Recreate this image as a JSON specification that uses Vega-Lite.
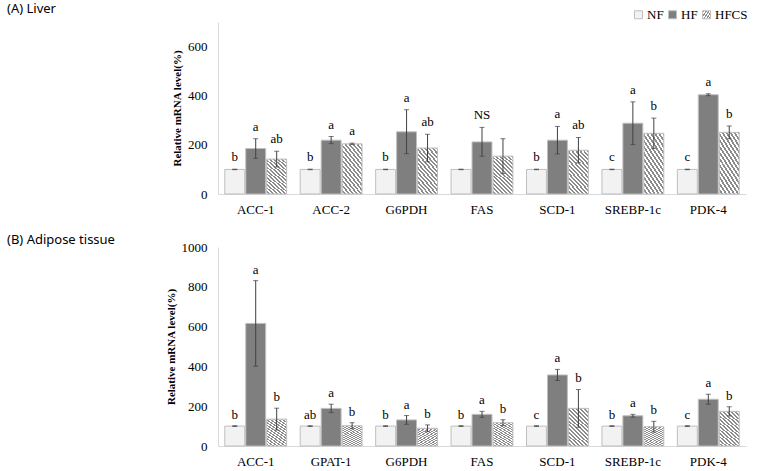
{
  "$schema": "https://vega.github.io/schema/vega-lite/v6.json",
  "padding": {"left": 7, "top": 3, "right": 5, "bottom": 2},
  "background": "#ffffff",
  "spacing": 18,
  "datasets": {
    "liver": [
      {"gene": "ACC-1", "diet": "NF", "value": 100, "lo": 99, "hi": 101, "label": "b"},
      {"gene": "ACC-1", "diet": "HF", "value": 185, "lo": 145, "hi": 225, "label": "a"},
      {"gene": "ACC-1", "diet": "HFCS", "value": 142, "lo": 110, "hi": 174, "label": "ab"},
      {"gene": "ACC-2", "diet": "NF", "value": 100, "lo": 99, "hi": 101, "label": "b"},
      {"gene": "ACC-2", "diet": "HF", "value": 219, "lo": 205, "hi": 234, "label": "a"},
      {"gene": "ACC-2", "diet": "HFCS", "value": 204, "lo": 201, "hi": 207, "label": "a"},
      {"gene": "G6PDH", "diet": "NF", "value": 100, "lo": 99, "hi": 101, "label": "b"},
      {"gene": "G6PDH", "diet": "HF", "value": 253, "lo": 164, "hi": 343, "label": "a"},
      {"gene": "G6PDH", "diet": "HFCS", "value": 187, "lo": 131, "hi": 243, "label": "ab"},
      {"gene": "FAS", "diet": "NF", "value": 100, "lo": 99, "hi": 101, "label": ""},
      {"gene": "FAS", "diet": "HF", "value": 212, "lo": 154, "hi": 271, "label": "NS"},
      {"gene": "FAS", "diet": "HFCS", "value": 154, "lo": 83, "hi": 225, "label": ""},
      {"gene": "SCD-1", "diet": "NF", "value": 100, "lo": 99, "hi": 101, "label": "b"},
      {"gene": "SCD-1", "diet": "HF", "value": 219, "lo": 163, "hi": 275, "label": "a"},
      {"gene": "SCD-1", "diet": "HFCS", "value": 178, "lo": 127, "hi": 230, "label": "ab"},
      {"gene": "SREBP-1c", "diet": "NF", "value": 100, "lo": 99, "hi": 101, "label": "c"},
      {"gene": "SREBP-1c", "diet": "HF", "value": 288, "lo": 201, "hi": 375, "label": "a"},
      {"gene": "SREBP-1c", "diet": "HFCS", "value": 247, "lo": 185, "hi": 309, "label": "b"},
      {"gene": "PDK-4", "diet": "NF", "value": 100, "lo": 99, "hi": 101, "label": "c"},
      {"gene": "PDK-4", "diet": "HF", "value": 404, "lo": 400, "hi": 408, "label": "a"},
      {"gene": "PDK-4", "diet": "HFCS", "value": 251, "lo": 225, "hi": 277, "label": "b"}
    ],
    "adipose": [
      {"gene": "ACC-1", "diet": "NF", "value": 100, "lo": 98, "hi": 102, "label": "b"},
      {"gene": "ACC-1", "diet": "HF", "value": 616, "lo": 401, "hi": 831, "label": "a"},
      {"gene": "ACC-1", "diet": "HFCS", "value": 135, "lo": 80, "hi": 190, "label": "b"},
      {"gene": "GPAT-1", "diet": "NF", "value": 100, "lo": 98, "hi": 102, "label": "ab"},
      {"gene": "GPAT-1", "diet": "HF", "value": 189, "lo": 168, "hi": 210, "label": "a"},
      {"gene": "GPAT-1", "diet": "HFCS", "value": 102, "lo": 87, "hi": 117, "label": "b"},
      {"gene": "G6PDH", "diet": "NF", "value": 100, "lo": 98, "hi": 102, "label": "b"},
      {"gene": "G6PDH", "diet": "HF", "value": 131, "lo": 109, "hi": 153, "label": "a"},
      {"gene": "G6PDH", "diet": "HFCS", "value": 89, "lo": 72, "hi": 106, "label": "b"},
      {"gene": "FAS", "diet": "NF", "value": 100, "lo": 98, "hi": 102, "label": "b"},
      {"gene": "FAS", "diet": "HF", "value": 159, "lo": 144, "hi": 174, "label": "a"},
      {"gene": "FAS", "diet": "HFCS", "value": 117, "lo": 102, "hi": 132, "label": "b"},
      {"gene": "SCD-1", "diet": "NF", "value": 100, "lo": 98, "hi": 102, "label": "c"},
      {"gene": "SCD-1", "diet": "HF", "value": 357, "lo": 329, "hi": 385, "label": "a"},
      {"gene": "SCD-1", "diet": "HFCS", "value": 189, "lo": 94, "hi": 284, "label": "b"},
      {"gene": "SREBP-1c", "diet": "NF", "value": 100, "lo": 98, "hi": 102, "label": "b"},
      {"gene": "SREBP-1c", "diet": "HF", "value": 152, "lo": 145, "hi": 159, "label": "a"},
      {"gene": "SREBP-1c", "diet": "HFCS", "value": 97, "lo": 70, "hi": 124, "label": "b"},
      {"gene": "PDK-4", "diet": "NF", "value": 100, "lo": 98, "hi": 102, "label": "c"},
      {"gene": "PDK-4", "diet": "HF", "value": 235, "lo": 210, "hi": 260, "label": "a"},
      {"gene": "PDK-4", "diet": "HFCS", "value": 174, "lo": 151, "hi": 197, "label": "b"}
    ]
  },
  "vconcat": [
    {
      "data": {"name": "liver"},
      "width": 528,
      "height": 172,
      "title": {"text": "(A)  Liver", "anchor": "start", "frame": "group", "dx": -211, "offset": 6},
      "encoding": {
        "x": {"field": "gene", "type": "nominal", "sort": null, "scale": {"paddingInner": 0.18, "paddingOuter": 0.09}, "axis": {"title": null}},
        "xOffset": {"field": "diet", "type": "nominal", "sort": ["NF", "HF", "HFCS"], "scale": {"domain": ["NF", "HF", "HFCS"], "paddingInner": 0.05}}
      },
      "layer": [
        {
          "mark": {"type": "bar", "stroke": "#bfbfbf", "strokeWidth": 1},
          "encoding": {
            "y": {"field": "value", "type": "quantitative", "scale": {"domain": [0, 700], "nice": false}, "axis": {"values": [0, 200, 400, 600], "tickCount": 10, "format": "d", "title": "Relative mRNA level(%)", "labelOverlap": false}},
            "fill": {"field": "diet", "type": "nominal", "scale": {"domain": ["NF", "HF", "HFCS"], "range": ["#f2f2f2", "#7f7f7f", {"expr": "{gradient:'linear',x1:0,y1:1,x2:0.6,y2:-0.2,stops:[{offset:0,color:'#ffffff'},{offset:0.0333,color:'#ffffff'},{offset:0.0333,color:'#8c8c8c'},{offset:0.0667,color:'#8c8c8c'},{offset:0.0667,color:'#ffffff'},{offset:0.1,color:'#ffffff'},{offset:0.1,color:'#8c8c8c'},{offset:0.1333,color:'#8c8c8c'},{offset:0.1333,color:'#ffffff'},{offset:0.1667,color:'#ffffff'},{offset:0.1667,color:'#8c8c8c'},{offset:0.2,color:'#8c8c8c'},{offset:0.2,color:'#ffffff'},{offset:0.2333,color:'#ffffff'},{offset:0.2333,color:'#8c8c8c'},{offset:0.2667,color:'#8c8c8c'},{offset:0.2667,color:'#ffffff'},{offset:0.3,color:'#ffffff'},{offset:0.3,color:'#8c8c8c'},{offset:0.3333,color:'#8c8c8c'},{offset:0.3333,color:'#ffffff'},{offset:0.3667,color:'#ffffff'},{offset:0.3667,color:'#8c8c8c'},{offset:0.4,color:'#8c8c8c'},{offset:0.4,color:'#ffffff'},{offset:0.4333,color:'#ffffff'},{offset:0.4333,color:'#8c8c8c'},{offset:0.4667,color:'#8c8c8c'},{offset:0.4667,color:'#ffffff'},{offset:0.5,color:'#ffffff'},{offset:0.5,color:'#8c8c8c'},{offset:0.5333,color:'#8c8c8c'},{offset:0.5333,color:'#ffffff'},{offset:0.5667,color:'#ffffff'},{offset:0.5667,color:'#8c8c8c'},{offset:0.6,color:'#8c8c8c'},{offset:0.6,color:'#ffffff'},{offset:0.6333,color:'#ffffff'},{offset:0.6333,color:'#8c8c8c'},{offset:0.6667,color:'#8c8c8c'},{offset:0.6667,color:'#ffffff'},{offset:0.7,color:'#ffffff'},{offset:0.7,color:'#8c8c8c'},{offset:0.7333,color:'#8c8c8c'},{offset:0.7333,color:'#ffffff'},{offset:0.7667,color:'#ffffff'},{offset:0.7667,color:'#8c8c8c'},{offset:0.8,color:'#8c8c8c'},{offset:0.8,color:'#ffffff'},{offset:0.8333,color:'#ffffff'},{offset:0.8333,color:'#8c8c8c'},{offset:0.8667,color:'#8c8c8c'},{offset:0.8667,color:'#ffffff'},{offset:0.9,color:'#ffffff'},{offset:0.9,color:'#8c8c8c'},{offset:0.9333,color:'#8c8c8c'},{offset:0.9333,color:'#ffffff'},{offset:0.9667,color:'#ffffff'},{offset:0.9667,color:'#8c8c8c'},{offset:1,color:'#8c8c8c'}]}"}]},
              "legend": {"orient": "none", "legendX": 414, "legendY": -14, "direction": "horizontal", "title": null, "symbolType": "square", "symbolSize": 64, "symbolStrokeColor": "#bfbfbf", "symbolStrokeWidth": 1, "labelFont": "Liberation Serif", "labelFontSize": 13, "labelColor": "#000000", "labelOffset": 2, "columnPadding": 2}}
          }
        },
        {
          "mark": {"type": "rule", "color": "#404040", "strokeWidth": 1},
          "encoding": {"y": {"field": "lo", "type": "quantitative"}, "y2": {"field": "hi"}}
        },
        {
          "mark": {"type": "tick", "color": "#404040", "size": 5, "thickness": 1, "orient": "horizontal"},
          "encoding": {"y": {"field": "hi", "type": "quantitative"}}
        },
        {
          "mark": {"type": "tick", "color": "#404040", "size": 5, "thickness": 1, "orient": "horizontal"},
          "encoding": {"y": {"field": "lo", "type": "quantitative"}}
        },
        {
          "mark": {"type": "text", "font": "Liberation Serif", "fontSize": 13, "color": "#000000", "baseline": "alphabetic", "dy": -8},
          "encoding": {"y": {"field": "hi", "type": "quantitative"}, "text": {"field": "label"}}
        }
      ]
    },
    {
      "data": {"name": "adipose"},
      "width": 528,
      "height": 199,
      "title": {"text": "(B)  Adipose tissue", "anchor": "start", "frame": "group", "dx": -211, "dy": 6, "offset": 0},
      "encoding": {
        "x": {"field": "gene", "type": "nominal", "sort": null, "scale": {"paddingInner": 0.18, "paddingOuter": 0.09}, "axis": {"title": null}},
        "xOffset": {"field": "diet", "type": "nominal", "sort": ["NF", "HF", "HFCS"], "scale": {"domain": ["NF", "HF", "HFCS"], "paddingInner": 0.05}}
      },
      "layer": [
        {
          "mark": {"type": "bar", "stroke": "#bfbfbf", "strokeWidth": 1},
          "encoding": {
            "y": {"field": "value", "type": "quantitative", "scale": {"domain": [0, 1000], "nice": false}, "axis": {"values": [0, 200, 400, 600, 800, 1000], "tickCount": 10, "format": "d", "title": "Relative mRNA level(%)", "labelOverlap": false, "labelFlush": false}},
            "fill": {"field": "diet", "type": "nominal", "scale": {"domain": ["NF", "HF", "HFCS"]},
              "legend": {"orient": "none", "legendX": 414, "legendY": -14, "direction": "horizontal", "title": null, "symbolType": "square", "symbolSize": 64, "symbolStrokeColor": "#bfbfbf", "symbolStrokeWidth": 1, "labelFont": "Liberation Serif", "labelFontSize": 13, "labelColor": "#000000", "labelOffset": 2, "columnPadding": 2}}
          }
        },
        {
          "mark": {"type": "rule", "color": "#404040", "strokeWidth": 1},
          "encoding": {"y": {"field": "lo", "type": "quantitative"}, "y2": {"field": "hi"}}
        },
        {
          "mark": {"type": "tick", "color": "#404040", "size": 5, "thickness": 1, "orient": "horizontal"},
          "encoding": {"y": {"field": "hi", "type": "quantitative"}}
        },
        {
          "mark": {"type": "tick", "color": "#404040", "size": 5, "thickness": 1, "orient": "horizontal"},
          "encoding": {"y": {"field": "lo", "type": "quantitative"}}
        },
        {
          "mark": {"type": "text", "font": "Liberation Serif", "fontSize": 13, "color": "#000000", "baseline": "alphabetic", "dy": -7},
          "encoding": {"y": {"field": "hi", "type": "quantitative"}, "text": {"field": "label"}}
        }
      ]
    }
  ],
  "resolve": {"scale": {"y": "independent"}},
  "config": {
    "view": {"stroke": null},
    "title": {"font": "Noto Sans", "fontSize": 13, "fontWeight": "normal", "color": "#000000"},
    "axis": {"labelFont": "Liberation Serif", "labelFontSize": 13, "labelColor": "#000000", "domainColor": "#d9d9d9", "ticks": false, "grid": false, "titleFont": "Liberation Serif", "titleFontSize": 11, "titleFontWeight": "bold", "titleColor": "#000000"},
    "axisX": {"labelAngle": 0, "labelPadding": 9},
    "axisY": {"labelPadding": 11, "titlePadding": 5, "labelOverlap": false, "labelFlush": false}
  }
}
